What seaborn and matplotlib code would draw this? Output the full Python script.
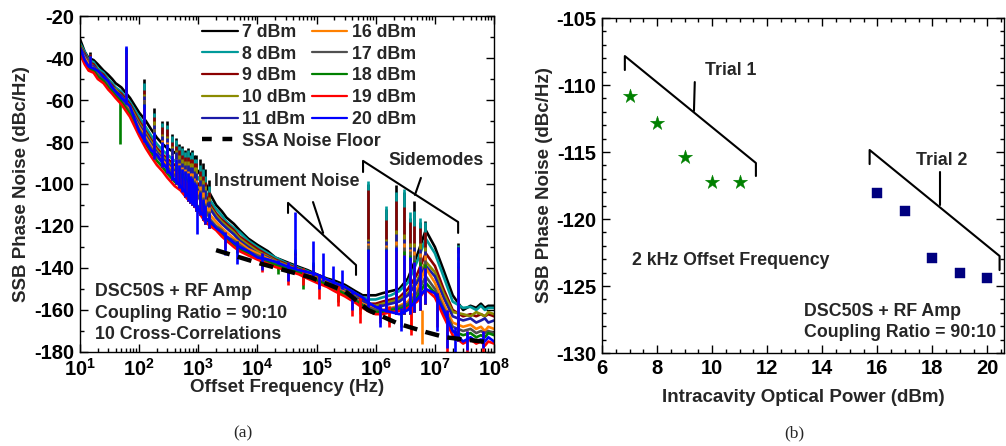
import numpy as np
import pandas as pd
import matplotlib
matplotlib.use("Agg")
import matplotlib.pyplot as plt
import seaborn as sns
from matplotlib.lines import Line2D
from matplotlib.ticker import MultipleLocator, LogLocator, FuncFormatter, NullFormatter

# ---------------- data ----------------
powers = ["7 dBm", "8 dBm", "9 dBm", "10 dBm", "11 dBm",
          "16 dBm", "17 dBm", "18 dBm", "19 dBm", "20 dBm"]
colors = ["#000000", "#009a9a", "#8b0000", "#8b8b00", "#1a1aa8",
          "#ff8000", "#505050", "#008000", "#ff0000", "#0000ff"]

freq = [10, 12, 14, 17, 20, 25, 30, 35, 40, 50, 70, 100, 130, 160, 200, 250, 300, 400, 500, 650,
        800, 1e3, 1.3e3, 1.6e3, 2e3, 2.5e3, 3e3, 4e3, 5e3, 7e3, 1e4, 1.5e4, 2e4, 3e4, 5e4, 7e4,
        1e5, 1.5e5, 2e5, 3e5, 4.5e5, 6e5, 8e5, 1e6, 1.3e6, 1.8e6, 2.5e6, 3.5e6, 5e6, 7e6, 1e7,
        1.4e7, 2e7, 3e7, 4e7, 5e7, 6e7, 7e7, 8e7, 1e8]

pn_7 = [-31, -37, -40, -41, -43, -46, -48, -50, -52, -54, -59, -66, -70, -74, -78, -81, -83, -85, -87, -89,
        -91, -94, -99, -105, -110, -113, -116, -119, -122, -126, -129, -132, -135, -137, -139.5, -141,
        -143, -145, -146, -148, -151, -153, -153, -153, -152, -151, -150, -145, -134, -122, -130,
        -141, -153, -160, -158, -159, -157, -159, -158, -158]
pn_8 = [-33, -37, -41, -42, -45, -47, -50, -52, -54, -56, -61, -68, -73, -77, -81, -84, -86, -89, -91, -92,
        -94, -97, -103, -108, -112, -115, -118, -121, -123, -127, -130, -133, -135, -137.5, -140, -141.5,
        -143.5, -145.5, -147, -149, -152, -154, -155, -155, -154, -153, -151, -147, -137, -126, -133,
        -144, -156, -159, -158.5, -160, -158, -160, -159, -159]
pn_9 = [-34, -38, -42, -43, -46, -48, -51, -53, -55, -57, -62, -70, -75, -79, -83, -86, -88, -91, -93, -95,
        -97, -100, -105, -110, -114, -117, -119, -122, -125, -128, -131, -134, -136, -138, -140.5, -142,
        -144, -146, -147.5, -150, -153, -155, -157, -157, -156, -155, -154, -150, -143, -133, -139,
        -150, -160, -163, -162, -163, -162, -163, -162, -163]
pn_10 = [-34, -39, -42, -44, -46, -49, -51, -54, -55, -58, -63, -71, -76, -80, -84, -87, -89, -93, -95, -97,
         -99, -102, -107, -111, -115, -118, -120, -123, -126, -129, -132, -134.5, -136.5, -138.5, -141, -142.5,
         -144.5, -146.5, -148, -150.5, -153.5, -156, -157.5, -158, -157, -156, -155, -152, -146, -137, -142,
         -152, -161, -162, -163, -161, -162, -163, -161, -162]
pn_11 = [-35, -39, -43, -44, -47, -49, -52, -54, -56, -58, -64, -72, -77, -81, -85, -88, -90, -94, -96, -98,
         -100, -103, -108, -112, -116, -119, -121, -124, -127, -130, -133, -135, -137, -139, -141.5, -143,
         -145, -147, -148.5, -151, -154, -156, -158, -159, -158, -157, -156, -153, -147, -139, -144,
         -154, -163, -165, -164, -166, -165, -164, -166, -165]
pn_16 = [-36, -40, -43, -45, -47, -50, -52, -55, -57, -59, -65, -73, -78, -82, -86, -89, -91, -95, -97, -99,
         -101, -104, -110, -115, -118, -121, -123, -126, -128, -131, -133, -135.5, -137, -139, -141, -143,
         -145, -147, -149, -151.5, -154.5, -157, -158.5, -160, -160, -159, -158, -156, -150, -140, -147,
         -157, -166, -168, -167, -169, -168, -170, -168, -169]
pn_17 = [-36, -41, -44, -45, -48, -50, -53, -55, -57, -60, -66, -74, -79, -83, -87, -90, -92, -96, -98, -100,
         -102, -106, -112, -117, -120, -122, -125, -127, -129, -132, -134, -136, -137.5, -139.5, -141.5, -143.5,
         -145.5, -147.5, -149.5, -152, -155, -157.5, -159, -160, -160.5, -159.5, -158.5, -157, -152, -144, -150,
         -159, -168, -170, -169, -171, -170, -171, -170, -171]
pn_18 = [-37, -42, -45, -46, -49, -51, -54, -56, -58, -61, -67, -75, -81, -85, -89, -92, -95, -99, -101, -104,
         -107, -111, -116, -119, -121, -124, -126, -129, -131, -133, -135, -137, -138.5, -140, -142, -144,
         -146, -148, -150, -152.5, -155.5, -158, -160, -161, -161, -160, -159.5, -158, -154, -147, -152,
         -161, -170, -172, -171, -173, -172, -173, -171, -172]
pn_19 = [-38, -43, -46, -47, -50, -52, -55, -57, -59, -62, -68, -77, -83, -87, -91, -94, -97, -101, -103, -107,
         -109, -113, -118, -120, -122, -125, -127, -130, -132, -134, -136, -138, -139.5, -141, -143, -145,
         -147, -149, -151, -153.5, -156.5, -159, -161, -162, -162, -161, -160.5, -159, -156, -150, -154,
         -163, -172, -176, -174, -176, -175, -177, -175, -176]
pn_20 = [-35, -41, -44, -45, -46, -49, -51, -54, -56, -59, -63, -75, -80, -84, -86, -90, -93, -98, -101, -105,
         -108, -112, -116, -118, -121, -123, -125, -128, -130, -132, -135, -136, -137, -139, -141, -142,
         -143, -145.5, -147, -149, -152, -154, -157, -158.5, -160, -161, -162, -160, -155, -150, -152,
         -160, -170, -175, -173, -175, -174, -175, -173, -175]
traces = [pn_7, pn_8, pn_9, pn_10, pn_11, pn_16, pn_17, pn_18, pn_19, pn_20]

# narrow upward spurs: frequency, foot level and peak level of each trace (nan = none)
n = np.nan
spur_freq = [15, 47, 60, 120, 180, 240, 300, 360, 420, 480, 540, 600, 660, 720, 780, 840, 900, 950,
             1080, 1200, 1320, 1500, 3.5e3,
             4.4e4, 8.8e4, 1.3e5, 1.6e5, 1.9e5, 2.7e5, 3.3e5,
             7.4e5, 1.51e6, 2.24e6, 3.0e6, 3.76e6, 4.45e6, 5.5e6, 6.0e6, 6.9e6, 2.2e7, 2.5e7]
spur_foot = [-44, -58, -62, -80, -88, -92, -95, -98, -100, -102, -104, -106, -108, -109, -110, -111, -113, -110,
             -115, -117, -119, -121, -122,
             -140, -144, -146, -146, -148, -150, -150,
             -160, -161, -162, -162, -162, -161, -160, -160, -157, -168, -175]
spur_7 = [-37, n, -35, -50, -64, -70, -70, -76, -78, -81, -82, -84, -83, -85, -84, -86, -86, n,
          -88, -90, -93, -98, n,
          -132, -138, n, n, n, n, n,
          -100, -112, -100.5, -104, -116, -108, -118, n, -117.5, n, -128]
spur_8 = [-38, n, -35, -52, -66, -71, -72, -77, -79, -82, -83, -85, -84, -86, -85, -88, -88, n,
          -91, -93, -96, -101, n,
          -131, -137, n, n, n, n, n,
          -98.5, -110.5, -104, -102.5, -113.5, -113, -116, n, -118, n, -129]
spur_9 = [-38, n, -36, -55, -68, -73, -74, -80, -82, -84, -86, -87, -87, -88, -88, -90, -90, n,
          -94, -96, -99, -104, n,
          -133, -139, n, n, n, n, n,
          -103, -117, -108, -111, -118, -120, -121, n, -123, n, -130]
spur_10 = [-39, n, -36, -57, -70, -76, -77, -82, -84, -86, -88, -89, -89, -90, -90, -92, -92, n,
           -96, -98, -101, -106, n,
           -134, -139, n, n, n, n, n,
           -126, -126, -122, -124, -128, -128, -128, n, -130, n, -133]
spur_11 = [-39, n, -36, -58, -72, -77, -78, -83, -85, -88, -90, -91, -91, -92, -92, -94, -95, n,
           -98, -100, -103, -108, n,
           -135, -140, n, n, n, n, n,
           -127, -127, -124, -126, -130, -130, -131, n, -132, n, -135]
spur_16 = [-40, n, -37, -60, -74, -79, -80, -86, -88, -90, -92, -93, -94, -95, -95, -97, -98, n,
           -101, -104, -107, -111, n,
           -136, -140, n, n, n, n, n,
           -128, -129, -127, -128, -131, -132, -133, n, -134, n, -136]
spur_17 = [-40, n, -37, -60, -74, -80, -81, -87, -89, -91, -93, -94, -95, -96, -96, -98, -99, n,
           -103, -106, -109, -113, n,
           -136, -141, n, n, n, n, n,
           -129, -130, -129, -130, -132, -134, -135, n, -136, n, -137]
spur_18 = [-41, n, -37, -62, -76, -82, -83, -89, -91, -93, -95, -96, -97, -98, -98, -100, -101, n,
           -105, -108, -111, -115, n,
           -137, -141, n, n, n, n, n,
           -131, -131, -131, -132, -134, -136, -137, n, -138, n, -139]
spur_19 = [-41, n, -38, -64, -78, -84, -85, -91, -93, -95, -97, -98, -99, -100, -100, -102, -103, n,
           -107, -110, -113, -116, n,
           -138, -142, n, n, n, n, n,
           -132, -132, -132, -134, -136, -137, -139, n, -140, n, -140]
spur_20 = [-39, n, -34.5, -62, -75, -80, -81, -86, -88, -91, -93, -94, -95, -96, -97, -99, -100, n,
           -104, -107, -110, -114, n,
           -113.5, -127, -133, n, -139, -141, n,
           -131, -131, -130, -134, -135, -137, -139, n, -140, n, -130]
spurs = [spur_7, spur_8, spur_9, spur_10, spur_11, spur_16, spur_17, spur_18, spur_19, spur_20]

# narrow downward dips of the noisier traces
dip_freq = [47, 950, 2.8e3, 4.5e3, 1.2e4, 2.2e4, 3.3e4, 6e4, 1.1e5, 2.3e5, 3.9e5, 5.5e5,
            1.2e6, 1.7e6, 2.7e6, 4e6, 6.0e6, 1.1e7, 1.6e7, 2.2e7, 3.5e7, 6.5e7]
dip_top = [-58, -110, -123, -127, -133, -136, -137, -140, -143, -147, -151, -154,
           -157, -158, -159, -158, -160, -152, -160, -168, -170, -170]
dip_8 = [n, n, n, n, n, n, n, n, n, n, -159, n, n, n, n, n, n, n, n, n, n, n]
dip_16 = [n, n, n, n, n, -141, n, n, n, -153, n, -162, n, -166, n, -170, -176, n, n, n, n, n]
dip_17 = [n, n, n, n, -140, n, -146, n, n, n, -158, n, -163, n, n, n, n, n, n, n, n, n]
dip_18 = [-81, n, n, -133, n, -143, n, -150, n, -156, n, -160, n, n, -168, n, n, -165, n, n, n, n]
dip_19 = [n, n, -131, n, -142, n, -148, -148, -155, -158, -163, -166, -166, -168, n, -172, n, -168, -180, n, -180, -180]
dip_20 = [n, -124, -134, -138, -141, -138, -146, n, -150, n, -160, n, -168, n, -170, n, n, -170, -178, -180, -179, -178]
dips = [None, dip_8, None, None, None, dip_16, dip_17, dip_18, dip_19, dip_20]

ssa_freq = [2e3, 1e4, 8e4, 3e5, 7.4e5, 2.4e6, 7e6, 1.5e7, 9e7]
ssa_floor = [-131.5, -137.5, -144.5, -151, -160, -166.5, -170.5, -173, -175.5]

trial1_power = [7, 8, 9, 10, 11]
trial1_noise = [-110.84, -112.86, -115.35, -117.26, -117.26]
trial2_power = [16, 17, 18, 19, 20]
trial2_noise = [-118.08, -119.38, -122.93, -124.05, -124.43]

# ---------------- style ----------------
sns.set_theme(style="ticks")
plt.rcParams.update({
    "font.family": ["Liberation Sans", "DejaVu Sans"],
    "font.weight": "bold",
    "axes.labelweight": "bold",
    "axes.unicode_minus": False,
    "mathtext.fontset": "custom",
    "mathtext.rm": "Liberation Sans:bold",
    "mathtext.bf": "Liberation Sans:bold",
    "mathtext.it": "Liberation Sans:bold",
    "xtick.direction": "in", "ytick.direction": "in",
    "xtick.top": True, "ytick.right": True,
    "axes.linewidth": 1.0,
    "axes.edgecolor": "black",
    "xtick.color": "black", "ytick.color": "black",
})

fig = plt.figure(figsize=(10.06, 4.46), dpi=100)
ax1 = fig.add_axes([0.0795, 0.2108, 0.4116, 0.7533])
ax2 = fig.add_axes([0.5984, 0.2085, 0.3996, 0.7511])

LW = 1.9
for vals, sp, dp, col in zip(traces, spurs, dips, colors):
    sns.lineplot(x=freq, y=vals, ax=ax1, color=col, lw=LW, estimator=None, sort=False)
    ax1.vlines(spur_freq, spur_foot, sp, colors=col, lw=LW)
    if dp is not None:
        ax1.vlines(dip_freq, dip_top, dp, colors=col, lw=LW)
sns.lineplot(x=ssa_freq, y=ssa_floor, ax=ax1, color="black", lw=3.2,
             estimator=None, sort=False, zorder=5)
ax1.lines[-1].set_dashes((3.2, 1.9))

ax1.set_xscale("log")
ax1.set_xlim(10, 1e8)
ax1.set_ylim(-180, -20)
ax1.yaxis.set_major_locator(MultipleLocator(20))
ax1.yaxis.set_minor_locator(MultipleLocator(10))
ax1.xaxis.set_major_locator(LogLocator(base=10, numticks=20))
ax1.xaxis.set_minor_locator(LogLocator(base=10, subs=np.arange(2, 10), numticks=20))
ax1.xaxis.set_minor_formatter(NullFormatter())
ax1.xaxis.set_major_formatter(FuncFormatter(lambda v, p: r"$\mathbf{10^{%d}}$" % round(np.log10(v))))
ax1.set_xlabel("Offset Frequency (Hz)", fontsize=13.5, fontweight="bold", labelpad=0)
ax1.set_ylabel("SSB Phase Noise (dBc/Hz)", fontsize=13.5, fontweight="bold", labelpad=3)

h_pow = [Line2D([], [], color=c, lw=1.6) for c in colors]
leg1 = ax1.legend(h_pow, powers, ncol=2, loc="upper left", bbox_to_anchor=(0.265, 1.014),
                  frameon=False, fontsize=12.8, handlelength=2.0, handletextpad=0.25,
                  columnspacing=0.3, labelspacing=0.27, borderpad=0.2)
ax1.add_artist(leg1)
ax1.legend([Line2D([], [], color="black", lw=3.2, dashes=(2.2, 2.4))], ["SSA Noise Floor"],
           loc="upper left", bbox_to_anchor=(0.265, 0.690), frameon=False, fontsize=12.8,
           handlelength=2.0, handletextpad=0.25, borderpad=0.2)

ax1.text(0.036, 0.179, "DSC50S + RF Amp", transform=ax1.transAxes, fontsize=12.8, va="center")
ax1.text(0.036, 0.116, "Coupling Ratio = 90:10", transform=ax1.transAxes, fontsize=12.8, va="center")
ax1.text(0.036, 0.051, "10 Cross-Correlations", transform=ax1.transAxes, fontsize=12.8, va="center")
ax1.text(3.16e4, -98.6, "Instrument Noise", fontsize=12.8, ha="center", va="center")
ax1.text(1.05e7, -88.6, "Sidemodes", fontsize=12.8, ha="center", va="center")
ax1.plot([3.29e4, 3.29e4, 4.64e5, 4.64e5], [-113.8, -109.0, -138.6, -143.3], color="black", lw=1.5, zorder=6)
ax1.plot([1.29e5, 8.7e4], [-123.3, -108.6], color="black", lw=1.5, zorder=6)
ax1.plot([6.1e5, 6.1e5, 2.47e7, 2.47e7], [-94.3, -89.0, -118.1, -123.3], color="black", lw=1.5, zorder=6)
ax1.plot([4.6e6, 5.8e6], [-105.2, -97.1], color="black", lw=1.5, zorder=6)

# right panel
sns.scatterplot(x=trial1_power, y=trial1_noise, ax=ax2, marker="*", s=115, color="#008000",
                edgecolor="#008000", linewidth=0.3, zorder=3)
sns.scatterplot(x=trial2_power, y=trial2_noise, ax=ax2, marker="s", s=52, color="#00007f",
                edgecolor="#00007f", linewidth=0.3, zorder=3)
ax2.set_xlim(6, 20.6)
ax2.set_ylim(-130, -105)
ax2.xaxis.set_major_locator(MultipleLocator(2))
ax2.xaxis.set_minor_locator(MultipleLocator(0.5))
ax2.yaxis.set_major_locator(MultipleLocator(5))
ax2.yaxis.set_minor_locator(MultipleLocator(1))
ax2.set_xlabel("Intracavity Optical Power (dBm)", fontsize=13.5, fontweight="bold", labelpad=8)
ax2.set_ylabel("SSB Phase Noise (dBc/Hz)", fontsize=13.5, fontweight="bold", labelpad=2)
ax2.plot([6.83, 6.83, 11.59, 11.59], [-108.88, -107.84, -115.82, -116.79], color="black", lw=1.5)
ax2.plot([9.34, 9.37], [-111.94, -109.78], color="black", lw=1.5)
ax2.text(10.68, -108.9, "Trial 1", fontsize=12.8, ha="center", va="center")
ax2.plot([15.72, 15.72, 20.44, 20.44], [-115.9, -114.85, -122.76, -123.81], color="black", lw=1.5)
ax2.plot([18.26, 18.26], [-118.96, -116.49], color="black", lw=1.5)
ax2.text(18.33, -115.6, "Trial 2", fontsize=12.8, ha="center", va="center")
ax2.text(7.09, -123.06, "2 kHz Offset Frequency", fontsize=12.8, ha="left", va="center")
ax2.text(13.33, -126.9, "DSC50S + RF Amp", fontsize=12.8, ha="left", va="center")
ax2.text(13.33, -128.5, "Coupling Ratio = 90:10", fontsize=12.8, ha="left", va="center")

for ax in (ax1, ax2):
    ax.tick_params(which="major", length=6, width=1.0, labelsize=14.5, pad=4)
    ax.tick_params(which="minor", length=3, width=1.0)
    for lab in ax.get_xticklabels() + ax.get_yticklabels():
        lab.set_fontweight("bold")

fig.text(0.2416, 0.029, "(a)", family="Liberation Serif", fontweight="normal", fontsize=12.5,
         ha="center", va="center")
fig.text(0.790, 0.029, "(b)", family="Liberation Serif", fontweight="normal", fontsize=12.5,
         ha="center", va="center")

fig.savefig("out.png", dpi=100)
